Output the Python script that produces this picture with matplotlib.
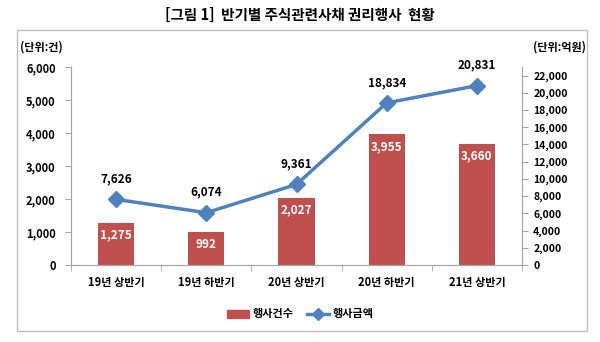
import matplotlib.pyplot as plt
from matplotlib.patches import Rectangle
from matplotlib.lines import Line2D
from matplotlib.ticker import FuncFormatter, FixedLocator

plt.rcParams['font.family'] = ['Noto Sans CJK KR', 'DejaVu Sans']

# 데이터
categories = ['19년 상반기', '19년 하반기', '20년 상반기', '20년 하반기', '21년 상반기']
counts = [1275, 992, 2027, 3955, 3660]        # 행사건수 (건)
amounts = [7626, 6074, 9361, 18834, 20831]    # 행사금액 (억원)

bar_color = '#C0504D'
line_color = '#4F81BD'
axis_gray = '#A6A6A6'

fig = plt.figure(figsize=(6, 3.42), dpi=100)
W, H = 600, 342

# 바깥 테두리
fig.add_artist(Rectangle((17 / W, 1 - 331 / H), (587 - 17) / W, (331 - 30) / H,
                         transform=fig.transFigure, fill=False,
                         edgecolor='#BFBFBF', linewidth=1.0))

fig.text(0.5, 1 - 15 / H, '[그림 1]  반기별 주식관련사채 권리행사  현황',
         ha='center', va='center', fontsize=10.5, fontweight='bold')

ax = fig.add_axes([71 / W, 1 - 265 / H, (522 - 71) / W, (265 - 67) / H])
x = list(range(len(categories)))

ax.bar(x, counts, width=0.4, color=bar_color, zorder=2)
ax.set_xlim(-0.5, len(categories) - 0.5)
ax.set_ylim(0, 6000)
ax.set_yticks(range(0, 6001, 1000))
ax.yaxis.set_major_formatter(FuncFormatter(lambda v, p: f'{int(v):,}'))

ax.set_xticks(x)
ax.set_xticklabels(categories, fontsize=8, fontweight='bold')
ax.tick_params(axis='x', length=0, pad=8)
ax.xaxis.set_minor_locator(FixedLocator([i - 0.5 for i in range(len(categories) + 1)]))
ax.tick_params(axis='x', which='minor', length=4, color=axis_gray)
ax.tick_params(axis='y', length=4, color=axis_gray, labelsize=8, pad=7)
for lab in ax.get_yticklabels():
    lab.set_fontweight('bold')

ax.spines['top'].set_visible(False)
for s in ['left', 'bottom', 'right']:
    ax.spines[s].set_color(axis_gray)

for xi, v in zip(x, counts):
    ax.text(xi, v - 170, f'{v:,}', ha='center', va='top', color='white',
            fontsize=8.5, fontweight='bold', zorder=3)

ax2 = ax.twinx()
ax2.plot(x, amounts, color=line_color, linewidth=2.5, marker='D', markersize=8, zorder=4)
ax2.set_ylim(0, 23000)
ax2.set_yticks(range(0, 22001, 2000))
ax2.yaxis.set_major_formatter(FuncFormatter(lambda v, p: f'{int(v):,}'))
ax2.tick_params(axis='y', length=4, color=axis_gray, labelsize=7.5, pad=4)
for lab in ax2.get_yticklabels():
    lab.set_fontweight('bold')
ax2.spines['top'].set_visible(False)
for s in ['left', 'bottom', 'right']:
    ax2.spines[s].set_color(axis_gray)

for xi, v in zip(x, amounts):
    ax2.annotate(f'{v:,}', (xi, v), xytext=(0, 10), textcoords='offset points',
                 ha='center', va='bottom', fontsize=8.5, fontweight='bold')

fig.text(20 / W, 1 - 47 / H, '(단위:건)', ha='left', va='center', fontsize=8, fontweight='bold')
fig.text(586 / W, 1 - 47 / H, '(단위:억원)', ha='right', va='center', fontsize=8, fontweight='bold')

handles = [Rectangle((0, 0), 1, 1, color=bar_color),
           Line2D([0], [0], color=line_color, linewidth=2.5, marker='D', markersize=6)]
fig.legend(handles, ['행사건수', '행사금액'], loc='center', bbox_to_anchor=(0.5, 1 - 314 / H),
           ncol=2, frameon=False, handlelength=2.0, handletextpad=0.3,
           columnspacing=1.2, prop={'weight': 'bold', 'size': 8})

fig.savefig('out.png', dpi=100)
